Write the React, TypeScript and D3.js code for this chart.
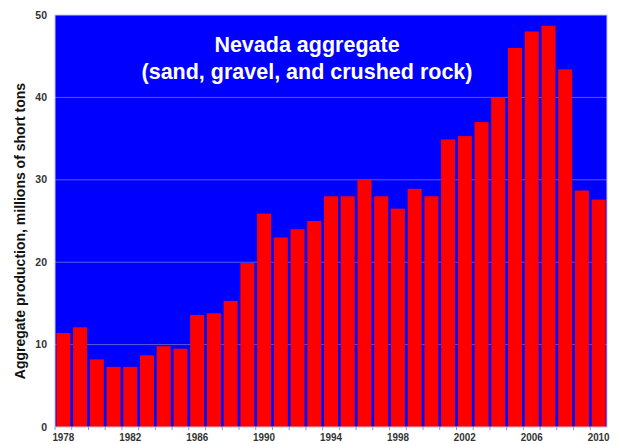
import React from "react";
import * as d3 from "d3";

const years: number[] = [
  1978, 1979, 1980, 1981, 1982, 1983, 1984, 1985, 1986, 1987, 1988,
  1989, 1990, 1991, 1992, 1993, 1994, 1995, 1996, 1997, 1998, 1999,
  2000, 2001, 2002, 2003, 2004, 2005, 2006, 2007, 2008, 2009, 2010,
];
const production: number[] = [
  11.4, 12.1, 8.2, 7.3, 7.3, 8.7, 9.8, 9.5, 13.6, 13.8, 15.3,
  19.9, 25.9, 23.0, 24.0, 25.0, 28.0, 28.0, 30.0, 28.0, 26.5, 28.9,
  28.0, 34.9, 35.3, 37.0, 40.0, 46.0, 48.0, 48.7, 43.4, 28.7, 27.6,
];
const yTicks: number[] = [0, 10, 20, 30, 40, 50];
const xTickYears: number[] = [1978, 1982, 1986, 1990, 1994, 1998, 2002, 2006, 2010];
const titleLines: string[] = ["Nevada aggregate", "(sand, gravel, and crushed rock)"];
const yAxisLabel = "Aggregate production, millions of short tons";

export default function App() {
  const W = 620, H = 444;
  const left = 55, right = 607, top = 15, bottom = 427;
  const x = d3.scaleBand<number>().domain(years).range([left, right]).paddingInner(0.16).paddingOuter(0.08);
  const y = d3.scaleLinear().domain([0, 50]).range([bottom, top]);
  const font = "'Liberation Sans', Arial, sans-serif";
  return (
    <svg width={W} height={H} style={{ position: "absolute", left: 0, top: 0, background: "#fff" }}>
      <rect x={left} y={top} width={right - left} height={bottom - top} fill="#0000ff" />
      {yTicks.filter((t) => t > 0 && t < 50).map((t) => (
        <line key={t} x1={left} x2={right} y1={y(t)} y2={y(t)} stroke="#5a5ad6" strokeWidth={1} />
      ))}
      {years.map((yr, i) => (
        <rect key={yr} x={x(yr)} y={y(production[i])} width={x.bandwidth()} height={bottom - y(production[i])} fill="#ff0000" />
      ))}
      <rect x={left} y={top} width={right - left} height={bottom - top} fill="none" stroke="#c4c4e8" strokeWidth={1} />
      {yTicks.map((t) => (
        <text key={t} x={47} y={y(t)} dy="0.35em" textAnchor="end" fontFamily={font} fontWeight="bold" fontSize={10.5} fill="#333">
          {t}
        </text>
      ))}
      {years.map((yr) => (
        <line key={"tk" + yr} x1={(x(yr) as number) - x.step() * 0.08} x2={(x(yr) as number) - x.step() * 0.08} y1={bottom} y2={bottom + 3} stroke="#999" />
      ))}
      {xTickYears.map((yr) => (
        <text key={yr} x={(x(yr) as number) + x.bandwidth() / 2} y={441} textAnchor="middle" fontFamily={font} fontWeight="bold" fontSize={10.5} fill="#333" transform={`translate(${((x(yr) as number) + x.bandwidth() / 2) * 0.06},0) scale(0.94,1)`}>
          {yr}
        </text>
      ))}
      {titleLines.map((s, i) => (
        <text key={s} x={307} y={52 + i * 27} textAnchor="middle" fontFamily={font} fontSize={21.5} fill="#fff" fontWeight="bold">
          {s}
        </text>
      ))}
      <text transform={`translate(25,${231}) rotate(-90)`} textAnchor="middle" fontFamily={font} fontWeight="bold" fontSize={14} fill="#111">
        {yAxisLabel}
      </text>
    </svg>
  );
}
